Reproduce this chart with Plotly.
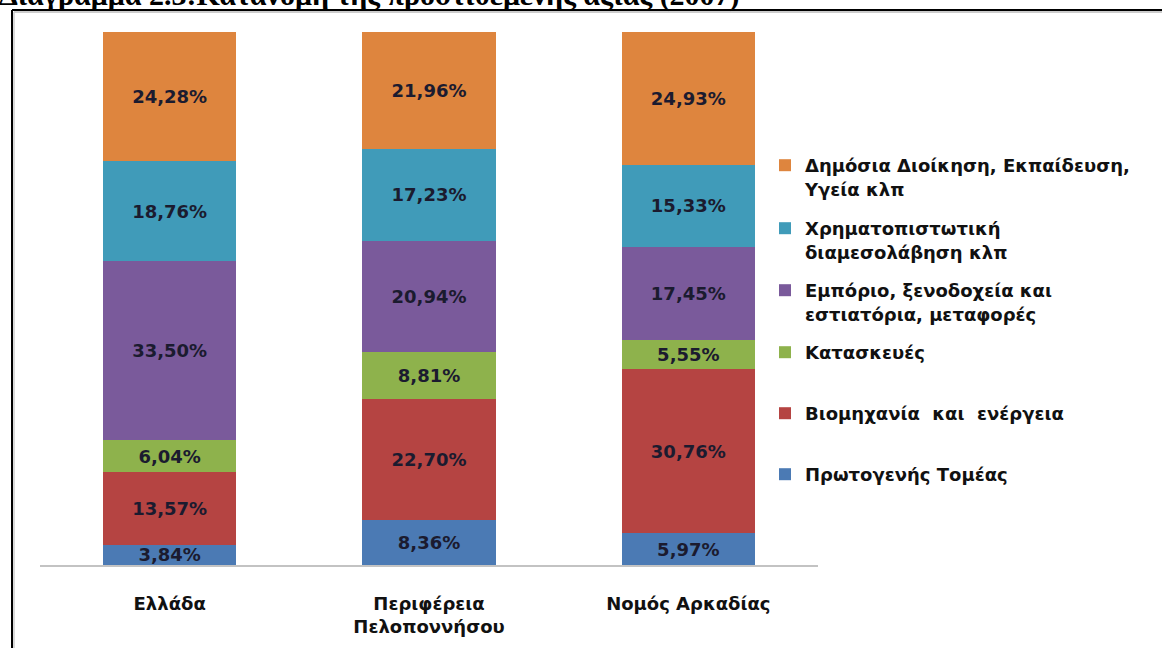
import plotly.graph_objects as go

# ---- data ----
regions = ["Ελλάδα", "Περιφέρεια<br>Πελοποννήσου", "Νομός Αρκαδίας"]
sectors = [
    "Πρωτογενής Τομέας",
    "Βιομηχανία  και  ενέργεια",
    "Κατασκευές",
    "Εμπόριο, ξενοδοχεία και<br>εστιατόρια, μεταφορές",
    "Χρηματοπιστωτική<br>διαμεσολάβηση κλπ",
    "Δημόσια Διοίκηση, Εκπαίδευση,<br>Υγεία κλπ",
]
primary = [3.84, 8.36, 5.97]
industry = [13.57, 22.70, 30.76]
construction = [6.04, 8.81, 5.55]
trade = [33.50, 20.94, 17.45]
finance = [18.76, 17.23, 15.33]
public = [24.28, 21.96, 24.93]
series = [primary, industry, construction, trade, finance, public]
colors = ["#4B7AB4", "#B54442", "#8EB24C", "#7A5A9B", "#409BB9", "#DE853E"]

title_text = "Διάγραμμα 2.3:Κατανομή της προστιθέμενης αξίας (2007)"

# ---- layout helpers (pixel -> paper) ----
W, H = 1162, 648
ML, MR, MT, MB = 40, 344, 32, 83
PW, PH = W - ML - MR, H - MT - MB


def px_x(x):
    return (x - ML) / PW


def px_y(y):
    return (H - MB - y) / PH


def fmt(v):
    return f"{v:.2f}".replace(".", ",") + "%"


fig = go.Figure()
legend_tops = [474, 413, 352, 290, 228, 165]
legend_names = ["legend6", "legend5", "legend4", "legend3", "legend2", "legend"]
for name, vals, col, lg in zip(sectors, series, colors, legend_names):
    fig.add_trace(go.Bar(
        x=regions, y=vals, name=name,
        marker=dict(color=col, line=dict(width=0)),
        text=[fmt(v) for v in vals],
        textposition="inside", insidetextanchor="middle", textangle=0,
        textfont=dict(family="DejaVu Sans", size=18, color="#1b1b2f", weight="bold"),
        legend=lg, hoverinfo="skip",
    ))

legend_font = dict(family="DejaVu Sans", size=18, color="#111111", weight="bold")
lay_legends = {}
for lg, yc in zip(legend_names, legend_tops):
    lay_legends[lg] = dict(
        x=px_x(765), xanchor="left", y=px_y(yc - 18), yanchor="top",
        font=legend_font, bgcolor="rgba(0,0,0,0)", valign="top",
    )

fig.update_layout(
    width=W, height=H,
    margin=dict(l=ML, r=MR, t=MT, b=MB),
    barmode="stack", bargap=0.487,
    paper_bgcolor="white", plot_bgcolor="white",
    showlegend=True,
    uniformtext=dict(minsize=18, mode="show"),
    xaxis=dict(
        showline=True, linecolor="#C3C3C3", linewidth=2,
        ticks="outside", ticklen=21, tickcolor="rgba(0,0,0,0)",
        tickfont=dict(family="DejaVu Sans", size=18, color="#111111", weight="bold"),
        showgrid=False, zeroline=False, fixedrange=True,
    ),
    yaxis=dict(range=[0, 100], visible=False, showgrid=False, fixedrange=True),
    **lay_legends,
)

# frame of the document box
fig.add_shape(type="line", xref="paper", yref="paper",
              x0=px_x(12), x1=px_x(W + 5), y0=px_y(10), y1=px_y(10),
              line=dict(color="#000000", width=2))
fig.add_shape(type="line", xref="paper", yref="paper",
              x0=px_x(12), x1=px_x(12), y0=px_y(10), y1=px_y(H + 5),
              line=dict(color="#000000", width=2))
fig.add_shape(type="line", xref="paper", yref="paper",
              x0=px_x(14), x1=px_x(W + 5), y0=px_y(12), y1=px_y(12),
              line=dict(color="#BBBBBB", width=1.5))
fig.add_shape(type="line", xref="paper", yref="paper",
              x0=px_x(14), x1=px_x(14), y0=px_y(12), y1=px_y(H + 5),
              line=dict(color="#CCCCCC", width=1.5))

# partially visible document caption above the box (cropped in the source image)
fig.add_annotation(
    text=title_text, xref="paper", yref="paper",
    x=px_x(-3), xanchor="left", y=px_y(14), yanchor="bottom",
    showarrow=False,
    font=dict(family="Liberation Serif", size=30, color="#000000", weight="bold"),
)

fig.write_html("out.html", config={"displayModeBar": False},
               post_script="document.body.style.margin='0';")
